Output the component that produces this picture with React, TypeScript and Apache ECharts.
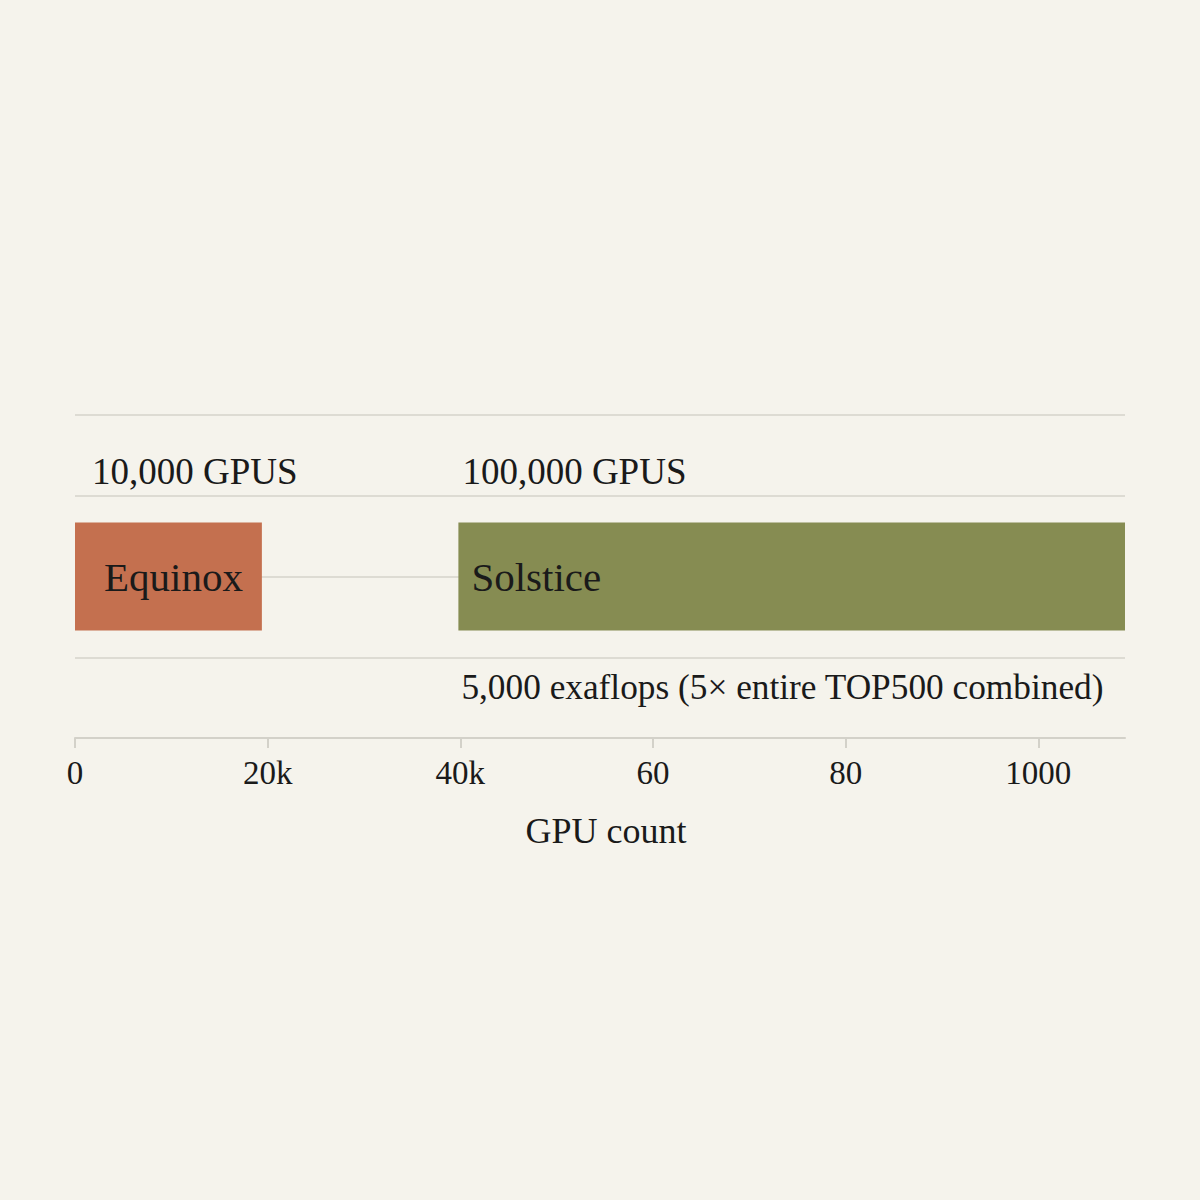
import React, { useEffect, useRef } from "react";
import * as echarts from "echarts";

// axis runs in "GPU units", ticks every 20
const tickValues = [0, 20, 40, 60, 80, 100];
const tickLabels = ["0", "20k", "40k", "60", "80", "1000"];
const axisMax = 109;

const systems = ["Equinox", "Solstice"];
const systemStart = [0, 39.8];
const systemEnd = [19.4, 109];
const systemColors = ["#c4704f", "#868c52"];

const noteTexts = ["10,000 GPUS", "100,000 GPUS", "5,000 exaflops (5× entire TOP500 combined)"];
const noteAt = [0, 39.8, 39.8];
const noteSide = ["top", "top", "bottom"];

const rows = ["", "", "GPUs", "", ""];

const FONT = "Liberation Serif";
const BG = "#f5f3ec";
const GRID_LINE = "#dddbd3";
const INK = "#1a1a1a";

const App = () => {
    const chartRef = useRef<HTMLDivElement>(null);

    useEffect(() => {
        if (!chartRef.current) return;
        document.body.style.margin = "0";
        document.body.style.background = BG;

        const chart = echarts.init(chartRef.current, null, { renderer: "svg" });

        const gap = systemStart[1] - systemEnd[0];
        const noteDx = [17, 4, 3];
        const noteSize = [37, 37, 35.3];

        const options = {
            animation: false,
            backgroundColor: BG,
            textStyle: { fontFamily: FONT },
            grid: { left: 75, right: 75, top: 415, bottom: 462 },
            xAxis: {
                type: "value",
                min: 0,
                max: axisMax,
                interval: 20,
                name: "GPU count",
                nameLocation: "middle",
                nameGap: 75,
                nameTextStyle: { fontFamily: FONT, fontSize: 36, color: INK, padding: [0, 0, 0, 12] },
                axisLine: { show: true, lineStyle: { color: "#d3d1c9", width: 2 } },
                axisTick: { show: true, length: 10, customValues: tickValues, lineStyle: { color: "#d3d1c9", width: 2 } },
                axisLabel: {
                    margin: 18,
                    fontFamily: FONT,
                    fontSize: 33,
                    color: INK,
                    rich: { t: { fontFamily: FONT, fontSize: 33, color: INK } },
                    formatter: (v) => {
                        const i = tickValues.indexOf(Math.round(v));
                        return i >= 0 && Math.abs(v - tickValues[i]) < 0.01 ? `{t|${tickLabels[i]}}` : "";
                    },
                },
                splitLine: { show: false },
            },
            yAxis: {
                type: "category",
                data: rows,
                boundaryGap: false,
                axisLine: { show: false },
                axisTick: { show: false },
                axisLabel: { show: false },
                splitLine: { show: true, lineStyle: { color: GRID_LINE, width: 2 } },
            },
            series: [
                {
                    name: systems[0],
                    type: "bar",
                    stack: "gpus",
                    barWidth: 108,
                    data: rows.map((r, i) => (i === 2 ? systemEnd[0] - systemStart[0] : null)),
                    itemStyle: { color: systemColors[0] },
                    label: {
                        show: true,
                        position: "insideLeft",
                        distance: 29,
                        formatter: systems[0],
                        fontFamily: FONT,
                        fontSize: 41,
                        color: INK,
                    },
                },
                {
                    name: "gap",
                    type: "bar",
                    stack: "gpus",
                    barWidth: 108,
                    data: rows.map((r, i) => (i === 2 ? gap : null)),
                    itemStyle: { color: "transparent" },
                    silent: true,
                },
                {
                    name: systems[1],
                    type: "bar",
                    stack: "gpus",
                    barWidth: 108,
                    data: rows.map((r, i) => (i === 2 ? systemEnd[1] - systemStart[1] : null)),
                    itemStyle: { color: systemColors[1] },
                    label: {
                        show: true,
                        position: "insideLeft",
                        distance: 13,
                        formatter: systems[1],
                        fontFamily: FONT,
                        fontSize: 41,
                        color: INK,
                    },
                },
                {
                    name: "notes",
                    type: "scatter",
                    symbolSize: 0,
                    silent: true,
                    z: 5,
                    itemStyle: { opacity: 1 },
                    data: noteTexts.map((t, i) => ({
                        value: [noteAt[i], 2],
                        label: {
                            show: true,
                            position: "right",
                            distance: 0,
                            offset: [noteDx[i], noteSide[i] === "top" ? -105 : 111],
                            formatter: t,
                            fontFamily: FONT,
                            fontSize: noteSize[i],
                            color: INK,
                        },
                    })),
                },
            ],
        };

        chart.setOption(options);
        return () => chart.dispose();
    }, []);

    return (
        <div
            ref={chartRef}
            style={{ position: "fixed", left: 0, top: 0, width: "1200px", height: "1200px" }}
        />
    );
};

export default App;
